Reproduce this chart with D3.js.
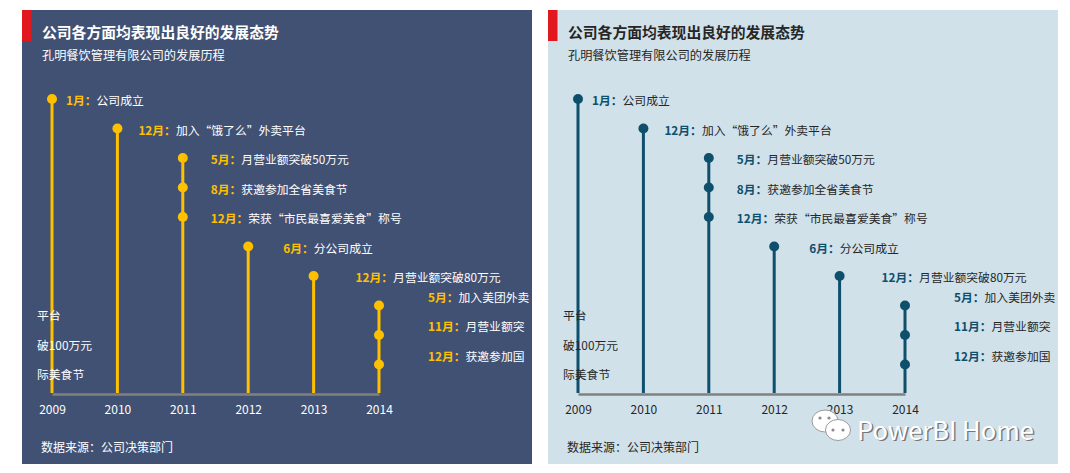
<!DOCTYPE html>
<html>
<head>
<meta charset="utf-8">
<script src="https://cdn.jsdelivr.net/npm/d3@7"></script>
<style>
  html, body { margin: 0; padding: 0; background: #ffffff; }
  svg { display: block; }
  text { font-family: "Noto Sans CJK SC", "Microsoft YaHei", sans-serif; }
</style>
</head>
<body>
<svg id="chart" width="1070" height="473"></svg>
<script>
// ---------- data ----------
const years = [2009, 2010, 2011, 2011, 2011, 2012, 2013, 2014, 2014, 2014];
const levels = [10, 9, 8, 7, 6, 5, 4, 3, 2, 1];
const months = ["1月：", "12月：", "5月：", "8月：", "12月：", "6月：", "12月：", "5月：", "11月：", "12月："];
const events = ["公司成立", "加入“饿了么”外卖平台", "月营业额突破50万元", "获邀参加全省美食节",
  "荣获“市民最喜爱美食”称号", "分公司成立", "月营业额突破80万元", "加入美团外卖", "月营业额突", "获邀参加国"];
const wrapTails = ["", "", "", "", "", "", "", "平台", "破100万元", "际美食节"];
const tickYears = [2009, 2010, 2011, 2012, 2013, 2014];
const title = "公司各方面均表现出良好的发展态势";
const subtitle = "孔明餐饮管理有限公司的发展历程";
const source = "数据来源：公司决策部门";

const themes = [
  { dx: 22, bg: "#415174", mark: "#ffc000", text: "#ffffff", axis: "#808080" },
  { dx: 548, bg: "#d1e1ea", mark: "#0e4f6c", text: "#262626", axis: "#808080" }
];

const svg = d3.select("#chart");
const data = years.map((y, i) => ({ year: y, level: levels[i], month: months[i], event: events[i], tail: wrapTails[i] }));

themes.forEach((t, pi) => {
  const W = 510, H = 454;
  const clipId = "clip" + pi;
  svg.append("clipPath").attr("id", clipId)
    .append("rect").attr("x", t.dx).attr("y", 10).attr("width", W).attr("height", H);

  const g = svg.append("g").attr("clip-path", `url(#${clipId})`);
  g.append("rect").attr("x", t.dx).attr("y", 10).attr("width", W).attr("height", H).attr("fill", t.bg);
  g.append("rect").attr("x", t.dx).attr("y", 10).attr("width", 9.5).attr("height", 31).attr("fill", "#e1191f");

  g.append("text").attr("x", t.dx + 20).attr("y", 31.5).attr("dominant-baseline", "central")
    .attr("font-size", 14.8).attr("font-weight", "bold").attr("fill", t.text).text(title);
  g.append("text").attr("x", t.dx + 20).attr("y", 54.5).attr("dominant-baseline", "central")
    .attr("font-size", 12.2).attr("fill", t.text).text(subtitle);

  const x = d3.scaleLinear().domain([2009, 2014]).range([t.dx + 30, t.dx + 357]);
  const lx = d3.scaleLinear().domain([2009, 2014]).range([t.dx + 44, t.dx + 406]);
  const y = d3.scaleLinear().domain([0, 10]).range([394, 99]);

  // axis
  const axis = d3.axisBottom(x).tickValues(tickYears).tickFormat(d3.format("d")).tickSize(0).tickPadding(11);
  const ag = g.append("g").attr("transform", `translate(0,${y(0)})`).call(axis);
  ag.select(".domain").attr("stroke", t.axis).attr("stroke-width", 2.6);
  ag.selectAll("text").attr("fill", t.text).attr("font-size", 12)
    .attr("font-family", "'Noto Sans CJK SC', sans-serif");

  // stems: from top event of each year to axis
  const tops = d3.rollups(data, v => d3.max(v, d => d.level), d => d.year);
  g.selectAll(".stem").data(tops).join("line")
    .attr("x1", d => x(d[0])).attr("x2", d => x(d[0]))
    .attr("y1", d => y(d[1])).attr("y2", y(0) - 1)
    .attr("stroke", t.mark).attr("stroke-width", 3);

  g.selectAll(".dot").data(data).join("circle")
    .attr("cx", d => x(d.year)).attr("cy", d => y(d.level)).attr("r", 5)
    .attr("fill", t.mark);

  // labels
  const lab = g.selectAll(".lab").data(data).join("text")
    .attr("x", d => lx(d.year))
    .attr("y", d => y(d.level) - (d.tail ? 10 : 0))
    .attr("dominant-baseline", "central")
    .attr("font-size", 11.8);
  lab.append("tspan").attr("font-weight", "bold").attr("fill", t.mark).text(d => d.month);
  lab.append("tspan").attr("fill", t.text).text(d => d.event);

  // wrapped tails (overflow onto next line)
  g.selectAll(".tail").data(data.filter(d => d.tail)).join("text")
    .attr("x", t.dx + 15)
    .attr("y", d => y(d.level) + 9)
    .attr("dominant-baseline", "central")
    .attr("font-size", 11.8).attr("fill", t.text)
    .text(d => d.tail);

  g.append("text").attr("x", t.dx + 19).attr("y", 446).attr("dominant-baseline", "central")
    .attr("font-size", 12).attr("fill", t.text).text(source);
});

// watermark
const wm = svg.append("g");
function bubble(cx, cy, rx, ry) {
  wm.append("ellipse").attr("cx", cx).attr("cy", cy).attr("rx", rx).attr("ry", ry)
    .attr("fill", "#ffffff").attr("stroke", "#9a9a9a").attr("stroke-width", 1);
}
bubble(825, 421, 13, 11);
bubble(838, 430, 12.5, 10.5);
[[820, 418], [829, 418], [833, 430], [843, 430]].forEach(p =>
  wm.append("circle").attr("cx", p[0]).attr("cy", p[1]).attr("r", 1.6).attr("fill", "#8a8a8a"));
wm.append("text").attr("x", 858.5).attr("y", 429.5).attr("dominant-baseline", "central")
  .attr("font-size", 25.5).attr("font-family", "'Open Sans', sans-serif").attr("fill", "#777").text("PowerBI Home");
wm.append("text").attr("x", 857).attr("y", 428).attr("dominant-baseline", "central")
  .attr("font-size", 25.5).attr("font-family", "'Open Sans', sans-serif").attr("fill", "#ffffff").text("PowerBI Home");
</script>
</body>
</html>
